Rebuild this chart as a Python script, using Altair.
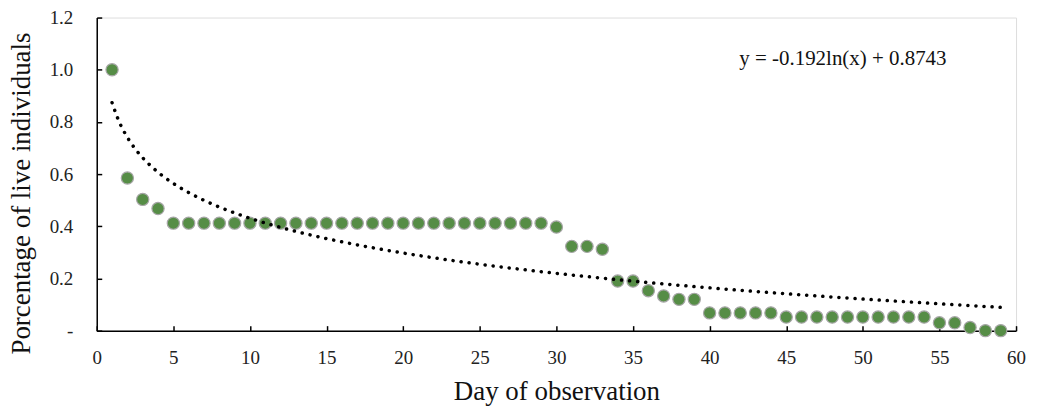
import altair as alt
import pandas as pd

# ---- data ----
days = list(range(1, 60))
live = [
    1.000, 0.585, 0.503, 0.468,
    0.412, 0.412, 0.412, 0.412, 0.412, 0.412, 0.412, 0.412, 0.412, 0.412,
    0.412, 0.412, 0.412, 0.412, 0.412, 0.412, 0.412, 0.412, 0.412, 0.412,
    0.412, 0.412, 0.412, 0.412, 0.412,
    0.397, 0.323, 0.323, 0.312, 0.190, 0.190, 0.153, 0.133, 0.120, 0.120,
    0.068, 0.068, 0.068, 0.068, 0.068,
    0.052, 0.052, 0.052, 0.052, 0.052, 0.052, 0.052, 0.052, 0.052, 0.052,
    0.030, 0.030, 0.012, 0.000, 0.000,
]
x_ticks = list(range(0, 61, 5))
y_ticks = [0, 0.2, 0.4, 0.6, 0.8, 1.0, 1.2]
equation = "y = -0.192ln(x) + 0.8743"
eq_pos = {"day": 48.7, "live": 1.04}

df = pd.DataFrame({"day": days, "live": live})

FONT = "Liberation Serif"

x_enc = alt.X(
    "day:Q",
    scale=alt.Scale(domain=[0, 60], nice=False, zero=False),
    axis=alt.Axis(
        values=x_ticks,
        title="Day of observation",
        grid=False,
        format="d",
        labelFlush=False,
        labelFont=FONT, labelFontSize=19, labelColor="#222",
        tickSize={"expr": "-5"}, labelPadding=23,
        titleFont=FONT, titleFontSize=27, titleFontWeight="normal", titleColor="#111",
        titleY=69, titleBaseline="alphabetic",
        domainColor="black", domainWidth=1.5, tickColor="black", tickWidth=1.5,
    ),
)
y_enc = alt.Y(
    "live:Q",
    scale=alt.Scale(domain=[0, 1.2], nice=False),
    axis=alt.Axis(
        values=y_ticks,
        title="Porcentage of live individuals",
        grid=False,
        labelFlush=False,
        labelExpr="datum.value == 0 ? '-' : format(datum.value, '.1f')",
        labelFont=FONT, labelFontSize=19, labelColor="#222",
        tickSize={"expr": "-5"}, labelPadding=29,
        titleFont=FONT, titleFontSize=27, titleFontWeight="normal", titleColor="#111",
        titleX=-75, titleY=176, titleBaseline="middle", titleAngle=270,
        domainColor="black", domainWidth=1.5, tickColor="black", tickWidth=1.5,
    ),
)

base = alt.Chart(df)

points = base.mark_point(
    filled=True, shape="circle", size=150, fill="#568D46", fillOpacity=1,
    stroke="#A6A6A6", strokeWidth=1.2, opacity=1,
).encode(x=x_enc, y=y_enc)

trend = base.transform_regression(
    "day", "live", method="log", extent=[1, 59]
).mark_line(
    color="black", strokeWidth=3.5, strokeDash=[0.1, 8], strokeCap="round"
).encode(x="day:Q", y="live:Q")

label = alt.Chart(pd.DataFrame([eq_pos])).mark_text(
    font=FONT, fontSize=21, color="#111", align="center", baseline="middle"
).encode(x="day:Q", y="live:Q", text=alt.value(equation))

chart = alt.layer(points, trend, label).properties(
    width=922,
    height=314,
    autosize=alt.AutoSizeParams(type="none"),
    padding={"left": 89, "top": 9, "right": 16, "bottom": 80},
).configure_view(stroke=None).configure(background="white")

chart.save("out.html", embed_options={"renderer": "svg", "actions": False})
